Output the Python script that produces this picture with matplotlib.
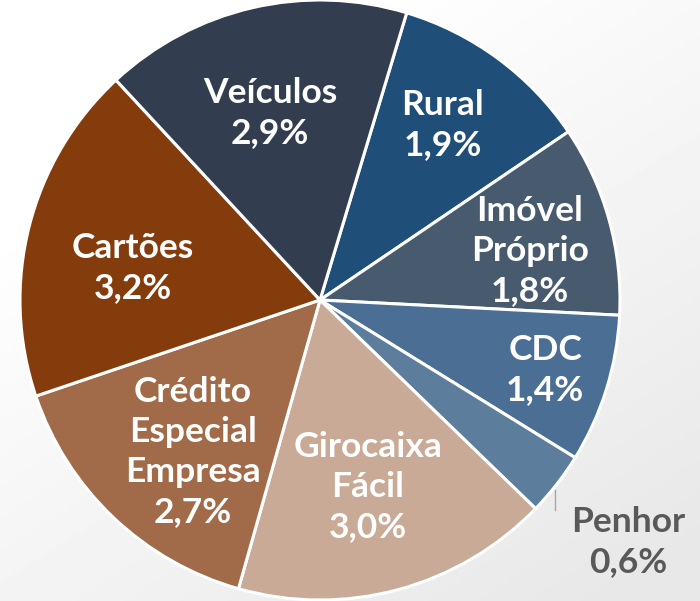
import numpy as np
import matplotlib
matplotlib.use('Agg')
import matplotlib.pyplot as plt

# slices in clockwise order, starting at Rural
labels = ['Rural', 'Imóvel\nPróprio', 'CDC', 'Penhor', 'Girocaixa\nFácil',
          'Crédito\nEspecial\nEmpresa', 'Cartões', 'Veículos']
values = [1.9, 1.8, 1.4, 0.6, 3.0, 2.7, 3.2, 2.9]
value_text = ['1,9%', '1,8%', '1,4%', '0,6%', '3,0%', '2,7%', '3,2%', '2,9%']
colors = ['#1f4e79', '#475a6e', '#4a6e94', '#5d7d9c', '#c8aa96',
          '#a16a48', '#843c0c', '#333d50']

# label centres in pixel coords (x, y from top)
label_px = [(443, 125), (530, 251), (545, 370), (628, 542), (368, 487),
            (193, 452), (133, 268), (270, 113)]

W, H = 700, 601
fig = plt.figure(figsize=(W / 100, H / 100), dpi=100)

# light background gradient
bg = fig.add_axes([0, 0, 1, 1])
yy, xx = np.mgrid[0:1:200j, 0:1:200j]
grad = 1 - 0.09 * np.clip((xx * 0.6 + yy * 0.8) - 0.3, 0, 1)
bg.imshow(grad, cmap='gray', vmin=0, vmax=1, extent=[0, 1, 0, 1], aspect='auto')
bg.axis('off')

cx, cy, r = 320, 300, 300
ax = fig.add_axes([(cx - r) / W, (H - cy - r) / H, 2 * r / W, 2 * r / H])
ax.pie(values, colors=colors, startangle=73.2, counterclock=False,
       wedgeprops=dict(edgecolor='white', linewidth=2.2), radius=1)
ax.set_xlim(-1, 1)
ax.set_ylim(-1, 1)
ax.set_aspect('auto')
ax.axis('off')

for name, val, (px, py) in zip(labels, value_text, label_px):
    color = '#595959' if name == 'Penhor' else 'white'
    fig.text(px / W, 1 - py / H, name + '\n' + val, ha='center', va='center',
             fontsize=25.5, fontweight='bold', family='Lato', color=color,
             linespacing=1.32)

# leader line for Penhor
fig.add_artist(plt.Line2D([555 / W, 555 / W], [1 - 490 / H, 1 - 510 / H],
                          color='#a6a6a6', linewidth=1))

fig.savefig('out.png', dpi=100)
